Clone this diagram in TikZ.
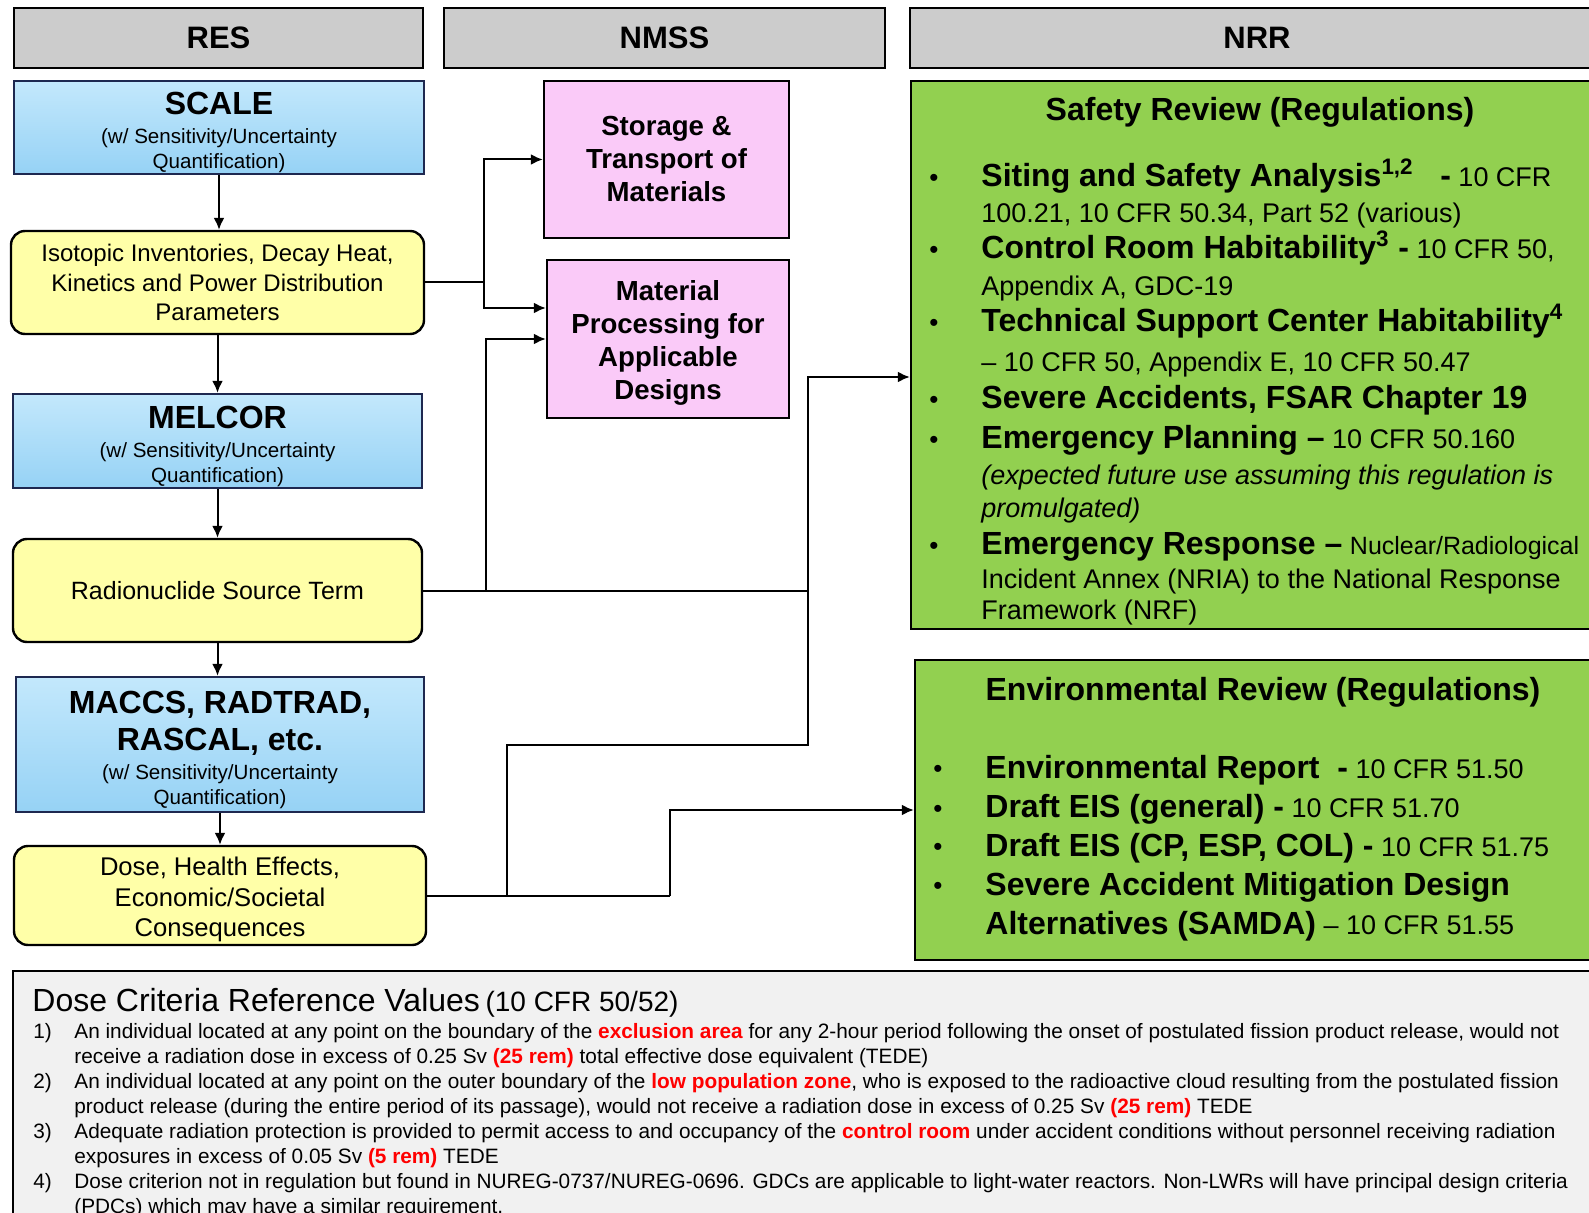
\documentclass[tikz,border=0pt]{standalone}
\usepackage{fontspec}
\setmainfont{Liberation Sans}
\usetikzlibrary{arrows.meta,calc,positioning}
\definecolor{headgray}{RGB}{204,204,204}
\definecolor{codeblue}{RGB}{150,210,245}
\definecolor{codebluetop}{RGB}{195,232,252}
\definecolor{codeedge}{RGB}{30,40,80}
\definecolor{resultyellow}{RGB}{255,255,168}
\definecolor{nmsspink}{RGB}{250,202,248}
\definecolor{nrrgreen}{RGB}{146,208,80}
\definecolor{notegray}{RGB}{241,241,241}
\definecolor{critred}{RGB}{255,0,0}

\newcommand{\fs}[2]{\fontsize{#1}{#2}\selectfont}
\newcommand{\itemhead}[1]{{\fs{16}{18}\bfseries #1}}
\newcommand{\critnum}[1]{\makebox[20.5pt][l]{#1}}
\newcommand{\redterm}[1]{\textcolor{critred}{\bfseries #1}}
\newcommand{\topgap}[1]{\rule{0pt}{#1}}

\tikzset{
    header/.style={draw=black, line width=1.2pt, fill=headgray, font=\fs{15.5}{18}\bfseries, inner sep=0pt},
    codebox/.style={draw=codeedge, line width=1.2pt, top color=codebluetop, bottom color=codeblue,
        align=center, inner sep=0pt, font=\fs{10.3}{12.5}},
    resultbox/.style={draw=black, line width=1.2pt, fill=resultyellow, rounded corners=7pt,
        align=center, inner sep=0pt, font=\fs{12}{14.8}},
    officebox/.style={draw=black, line width=1.2pt, fill=nmsspink, align=center, inner sep=0pt,
        font=\fs{13.8}{16.5}\bfseries},
    reviewbox/.style={draw=black, line width=1.2pt, fill=nrrgreen, inner sep=0pt},
    listtext/.style={align=left, inner sep=0pt, font=\fs{13.5}{18}},
    dot/.style={inner sep=0pt, font=\fs{13}{15}},
    link/.style={line width=1pt},
    arr/.style={link, -{Latex[length=6pt,width=5.5pt]}},
}

\begin{document}
\begin{tikzpicture}[x=0.5pt, y=-0.5pt]
    % Page frame
    \useasboundingbox (0,0) rectangle (1589,1213);

    % Office headers
    \node[header, minimum width=204.5pt, minimum height=30pt] (res) at (218.5,38) {RES};
    \node[header, minimum width=220.5pt, minimum height=30pt] (nmss) at (664.5,38) {NMSS};
    \node[header, minimum width=347pt, minimum height=30pt] (nrr) at (1257,38) {NRR};

    % RES column
    \node[codebox, minimum width=205pt, minimum height=46.5pt] (scale) at (219,127.5)
        {{\fs{16}{18}\bfseries\topgap{16pt}SCALE}\\[2pt] (w/ Sensitivity/Uncertainty\\ Quantification)};
    \node[resultbox, minimum width=206.5pt, minimum height=51.5pt] (iso) at (217.5,282.5)
        {Isotopic Inventories, Decay Heat,\\ Kinetics and Power Distribution\\ Parameters};
    \node[codebox, minimum width=204.5pt, minimum height=47pt] (melcor) at (217.5,441)
        {{\fs{16}{18}\bfseries\topgap{16.5pt}MELCOR}\\[2pt] (w/ Sensitivity/Uncertainty\\ Quantification)};
    \node[resultbox, minimum width=204.5pt, minimum height=51.5pt, font=\fs{12.5}{15}] (src) at (217.5,590.5)
        {Radionuclide Source Term};
    \node[codebox, minimum width=204pt, minimum height=67.5pt] (maccs) at (220,744.5)
        {{\fs{16}{18}\bfseries\topgap{16.5pt}MACCS, RADTRAD,}\\[4pt] {\fs{16}{18}\bfseries RASCAL, etc.}\\[2pt]
         (w/ Sensitivity/Uncertainty\\ Quantification)};
    \node[resultbox, minimum width=206pt, minimum height=49.5pt, font=\fs{12.8}{15.2}] (dose) at (220,895.5)
        {\topgap{13.4pt}Dose, Health Effects,\\ Economic/Societal\\ Consequences};

    % NMSS column
    \node[officebox, minimum width=122.5pt, minimum height=78.5pt] (storage) at (666.5,159.5)
        {Storage \&\\ Transport of\\ Materials};
    \node[officebox, minimum width=121pt, minimum height=79pt] (material) at (668,339)
        {\topgap{14pt}Material\\ Processing for\\ Applicable\\ Designs};

    % NRR column
    \node[reviewbox, minimum width=349pt, minimum height=274pt] (safety) at (1260,355) {};
    \node[reviewbox, minimum width=347pt, minimum height=150pt] (env) at (1262,810) {};

    % Flow down the RES column
    \foreach \a/\b in {scale/iso, iso/melcor, melcor/src, src/maccs, maccs/dose} {
        \draw[arr] (\a.south) -- (\a.south |- \b.north);
    }

    % Branches to NMSS
    \coordinate (isoj) at (484,282.5);
    \draw[link] (iso.east) -- (isoj);
    \draw[arr] (isoj) |- (storage.west);
    \draw[arr] (isoj) |- ($(material.west)+(0,-31)$);
    \coordinate (srcj) at (486,590.5);
    \draw[link] (src.east) -- (srcj);
    \draw[arr] (srcj) |- (material.west);

    % Branches to NRR
    \coordinate (nrrj) at (808,590.5);
    \coordinate (loopj) at (808,745);
    \coordinate (dosej) at (507,895.5);
    \coordinate (envj) at (670,895.5);
    \draw[link] (srcj) -- (nrrj);
    \draw[arr] (nrrj) |- ($(safety.west)+(0,22)$);
    \draw[link] (dose.east) -- (envj);
    \draw[arr] (envj) |- (env.west);
    \draw[link] (dosej) |- (loopj) -- (nrrj);

    % Safety review list
    \node[font=\fs{16}{18}\bfseries] (safetytitle) at (1260,112) {Safety Review (Regulations)};
    \node[listtext, anchor=north west] (safetylist) at (981,158) {%
        \itemhead{Siting and Safety Analysis\textsuperscript{1,2}\ \ \ -} 10 CFR\\
        100.21, 10 CFR 50.34, Part 52 (various)\\
        \itemhead{Control Room Habitability\textsuperscript{3} -} 10 CFR 50,\\[0.5pt]
        Appendix A, GDC-19\\
        \itemhead{Technical Support Center Habitability\textsuperscript{4}}\\[2pt]
        – 10 CFR 50, Appendix E, 10 CFR 50.47\\[0.5pt]
        \itemhead{Severe Accidents, FSAR Chapter 19}\\[2pt]
        \itemhead{Emergency Planning –} 10 CFR 50.160\\
        \textit{(expected future use assuming this regulation is}\\[-1.5pt]
        \textit{promulgated)}\\[0.5pt]
        \itemhead{Emergency Response –} {\fs{12.5}{18}Nuclear/Radiological}\\[-1pt]
        Incident Annex (NRIA) to the National Response\\[-2.5pt]
        Framework (NRF)};
    \foreach \y [count=\k] in {180,252,325,402,442,548} {
        \node[dot] (sb\k) at (934,\y) {\textbullet};
    }

    % Environmental review list
    \node[font=\fs{16}{18}\bfseries] (envtitle) at (1263,692) {Environmental Review (Regulations)};
    \node[listtext, anchor=north west, font=\fs{13.5}{19.5}] (envlist) at (985,755) {%
        \itemhead{Environmental Report\ \ -} 10 CFR 51.50\\
        \itemhead{Draft EIS (general) -} 10 CFR 51.70\\
        \itemhead{Draft EIS (CP, ESP, COL) -} 10 CFR 51.75\\
        \itemhead{Severe Accident Mitigation Design}\\
        \itemhead{Alternatives (SAMDA)} – 10 CFR 51.55};
    \foreach \y [count=\k] in {771,811,849,888} {
        \node[dot] (eb\k) at (938,\y) {\textbullet};
    }

    % Dose criteria notes
    \draw[line width=1.2pt, fill=notegray] (13,971) rectangle (1625,1250);
    \node[anchor=west, inner sep=0pt] (crittitle) at (32,1003)
        {{\fs{16}{18}Dose Criteria Reference Values}\ {\fs{14}{16}(10 CFR 50/52)}};
    \node[anchor=north west, align=left, inner sep=0pt, font=\fs{10.4}{12.5}] (critlist) at (33,1023) {%
        \critnum{1)}An individual located at any point on the boundary of the \redterm{exclusion area} for any 2-hour period following the onset of postulated fission product release, would not\\
        \critnum{}receive a radiation dose in excess of 0.25 Sv \redterm{(25 rem)} total effective dose equivalent (TEDE)\\
        \critnum{2)}An individual located at any point on the outer boundary of the \redterm{low population zone}, who is exposed to the radioactive cloud resulting from the postulated fission\\
        \critnum{}product release (during the entire period of its passage), would not receive a radiation dose in excess of 0.25 Sv \redterm{(25 rem)} TEDE\\
        \critnum{3)}Adequate radiation protection is provided to permit access to and occupancy of the \redterm{control room} under accident conditions without personnel receiving radiation\\
        \critnum{}exposures in excess of 0.05 Sv \redterm{(5 rem)} TEDE\\
        \critnum{4)}Dose criterion not in regulation but found in NUREG-0737/NUREG-0696. GDCs are applicable to light-water reactors. Non-LWRs will have principal design criteria\\
        \critnum{}(PDCs) which may have a similar requirement.};
\end{tikzpicture}
\end{document}
